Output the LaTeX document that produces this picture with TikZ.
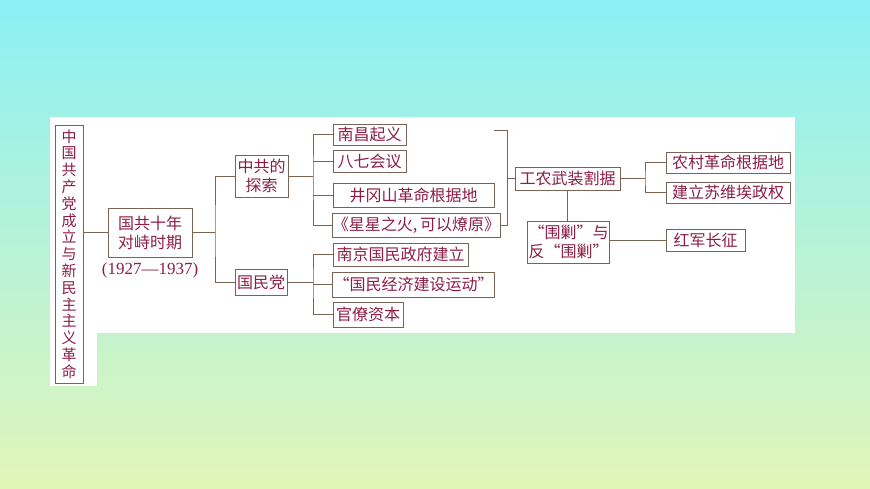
\documentclass[tikz,border=0pt]{standalone}
\usepackage{fontspec}
\setmainfont{Liberation Serif}
\newfontfamily\cjk{Noto Sans CJK SC}
\usetikzlibrary{positioning}
\definecolor{txtred}{RGB}{140,30,70}
\definecolor{lnbrown}{RGB}{120,100,85}
\definecolor{bgtop}{RGB}{140,240,245}
\definecolor{bgbot}{RGB}{225,245,185}
\tikzset{
  box/.style={draw=lnbrown,line width=0.9pt,fill=white,inner sep=1pt,text=txtred,font=\cjk\fontsize{16}{19}\selectfont,align=center},
  link/.style={draw=lnbrown,line width=0.9pt}
}
\begin{document}
\begin{tikzpicture}[x=1pt,y=-1pt]
  \useasboundingbox (0,0) rectangle (870,489);
  \shade[top color=bgtop,bottom color=bgbot] (0,0) rectangle (870,489);
  \fill[white] (50,117) rectangle (795,333);
  \fill[white] (50,117) rectangle (97,386);

  % left column
  \node[box,minimum width=28,minimum height=258,font=\cjk\fontsize{15}{16.8}\selectfont] (title) at (69,254)
    {中\\国\\共\\产\\党\\成\\立\\与\\新\\民\\主\\主\\义\\革\\命};
  \node[box,minimum width=84,minimum height=49] (gg) at (150,232.5) {国共十年\\对峙时期};
  \node[text=txtred,font=\fontsize{17}{18}\selectfont] (years) at (150,270) {(1927---1937)};

  \node[box,minimum width=53,minimum height=42] (zg) at (261.5,176) {中共的\\探索};
  \node[box,minimum width=52,minimum height=26] (gmd) at (261,282) {国民党};

  \node[box,minimum width=73,minimum height=21] (nc) at (369.5,134.5) {南昌起义};
  \node[box,minimum width=73,minimum height=22] (bq) at (369.5,161) {八七会议};
  \node[box,minimum width=161,minimum height=24] (jgs) at (413.5,195) {井冈山革命根据地};
  \node[box,minimum width=167,minimum height=24,inner sep=0pt] (xx) at (416.5,225) {《星星之火,\,可以燎原》};
  \node[box,minimum width=135,minimum height=23] (nj) at (400.5,254.5) {南京国民政府建立};
  \node[box,minimum width=161,minimum height=25] (jj) at (413.5,284.5) {“国民经济建设运动”};
  \node[box,minimum width=70,minimum height=25] (gl) at (368,314.5) {官僚资本};

  \node[box,minimum width=105,minimum height=23] (gn) at (567.5,178.5) {工农武装割据};
  \node[box,minimum width=124,minimum height=21] (nccm) at (728,162.5) {农村革命根据地};
  \node[box,minimum width=124,minimum height=21] (sw) at (728,192.5) {建立苏维埃政权};
  \node[box,minimum width=81,minimum height=42] (wj) at (568.5,242) {“围剿”与\\反“围剿”};
  \node[box,minimum width=79,minimum height=22] (hj) at (705.5,240) {红军长征};

  % connectors
  \coordinate (j1) at (215,232.5);
  \coordinate (j2) at (313,176);
  \coordinate (j3) at (313,282);
  \coordinate (b1) at (494,130);
  \coordinate (b2) at (507,130);
  \draw[link] (title.east |- gg.west) -- (gg.west);
  \draw[link] (gg.east) -- (j1);
  \draw[link] (zg.west) -| (j1) |- (gmd.west);
  \draw[link] (zg.east) -- (j2);
  \draw[link] (nc.west) -| (j2) |- (xx.west);
  \draw[link] (bq.west) -- (bq.west -| j2);
  \draw[link] (jgs.west) -- (jgs.west -| j2);
  \draw[link] (gmd.east) -- (j3);
  \draw[link] (nj.west) -| (j3) |- (gl.west);
  \draw[link] (jj.west) -- (jj.west -| j3);
  \draw[link] (b1) -- (b2) |- (xx.east);
  \draw[link] (gn.west) -- (gn.west -| b2);
  \coordinate (j4) at (645,178.5);
  \draw[link] (gn.east) -- (j4);
  \draw[link] (nccm.west) -| (j4) |- (sw.west);
  \draw[link] (gn.south) -- (wj.north -| gn.south);
  \draw[link] (hj.west) -- (hj.west -| wj.east);
\end{tikzpicture}
\end{document}
